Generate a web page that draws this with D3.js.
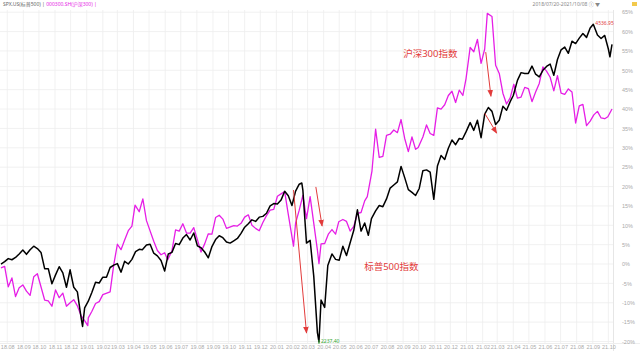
<!DOCTYPE html>
<html><head><meta charset="utf-8">
<script src="https://cdn.jsdelivr.net/npm/d3@7"></script>
<style>body{margin:0;background:#fff;}svg{display:block;font-family:"Noto Sans","Noto Sans CJK SC",sans-serif;}</style>
</head><body>
<svg id="c" width="640" height="351"></svg>
<script>
// S&P 500 (SPX) percent change since start
const spx = [
["2018-07-20",0.0],["2018-07-27",0.6],["2018-08-03",1.4],["2018-08-10",1.1],["2018-08-17",1.7],["2018-08-24",2.6],["2018-08-31",3.6],["2018-09-07",2.5],["2018-09-14",3.7],["2018-09-21",4.6],["2018-09-28",4.0],["2018-10-05",3.0],["2018-10-12",-1.2],["2018-10-19",-1.2],["2018-10-26",-5.1],["2018-11-02",-2.8],["2018-11-09",-0.7],["2018-11-16",-2.3],["2018-11-23",-6.0],["2018-11-30",-1.5],["2018-12-07",-6.0],["2018-12-14",-7.2],["2018-12-21",-13.7],["2018-12-24",-16.1],["2018-12-28",-11.3],
["2019-01-04",-9.6],["2019-01-11",-7.3],["2019-01-18",-4.7],["2019-01-25",-4.9],["2019-02-01",-3.4],["2019-02-08",-3.4],["2019-02-15",-0.9],["2019-02-22",-0.3],["2019-03-01",0.1],["2019-03-08",-2.1],["2019-03-15",0.7],["2019-03-22",0.0],["2019-03-29",1.2],["2019-04-05",3.2],["2019-04-12",3.8],["2019-04-18",3.7],["2019-04-26",4.9],["2019-05-03",5.1],["2019-05-10",2.8],["2019-05-17",2.1],["2019-05-24",0.9],["2019-05-31",-1.8],["2019-06-07",2.6],["2019-06-14",3.0],["2019-06-21",5.3],["2019-06-28",5.0],["2019-07-05",6.7],["2019-07-12",7.6],["2019-07-19",6.2],["2019-07-26",8.0],["2019-08-02",4.7],["2019-08-09",4.2],["2019-08-16",3.1],["2019-08-23",1.6],["2019-08-30",4.5],["2019-09-06",6.3],["2019-09-13",7.3],["2019-09-20",6.8],["2019-09-27",5.7],["2019-10-04",5.4],["2019-10-11",6.0],["2019-10-18",6.6],["2019-10-25",7.9],["2019-11-01",9.5],["2019-11-08",10.4],["2019-11-15",11.4],["2019-11-22",11.0],["2019-11-29",12.1],["2019-12-06",12.3],["2019-12-13",13.1],["2019-12-20",15.0],["2019-12-27",15.6],
["2020-01-03",15.5],["2020-01-10",16.5],["2020-01-17",18.8],["2020-01-24",17.6],["2020-01-31",15.1],["2020-02-07",18.8],["2020-02-14",20.6],["2020-02-19",20.9],["2020-02-21",19.1],["2020-02-28",5.4],["2020-03-06",6.1],["2020-03-13",-3.2],["2020-03-20",-17.7],["2020-03-23",-20.1],["2020-03-27",-9.3],["2020-04-03",-11.2],["2020-04-09",-0.4],["2020-04-17",2.6],["2020-04-24",1.2],["2020-05-01",1.0],["2020-05-08",4.6],["2020-05-15",2.2],["2020-05-22",5.5],["2020-05-29",8.7],["2020-06-05",14.0],["2020-06-12",8.5],["2020-06-19",10.6],["2020-06-26",7.4],["2020-07-02",11.7],["2020-07-10",13.7],["2020-07-17",15.1],["2020-07-24",14.8],["2020-07-31",16.8],["2020-08-07",19.6],["2020-08-14",20.4],["2020-08-21",21.2],["2020-08-28",25.2],["2020-09-04",22.3],["2020-09-11",19.2],["2020-09-18",18.5],["2020-09-25",17.7],["2020-10-02",19.5],["2020-10-09",24.1],["2020-10-16",24.3],["2020-10-23",23.7],["2020-10-30",16.7],["2020-11-06",25.3],["2020-11-13",28.0],["2020-11-20",27.0],["2020-11-27",29.9],["2020-12-04",32.0],["2020-12-11",30.8],["2020-12-18",32.4],["2020-12-24",32.2],["2020-12-31",34.1],
["2021-01-08",36.5],["2021-01-15",34.5],["2021-01-22",37.1],["2021-01-29",32.6],["2021-02-05",38.7],["2021-02-12",40.4],["2021-02-19",39.4],["2021-02-26",36.0],["2021-03-05",37.1],["2021-03-12",40.7],["2021-03-19",39.7],["2021-03-26",41.9],["2021-04-01",43.5],["2021-04-09",47.4],["2021-04-16",49.4],["2021-04-23",49.2],["2021-04-30",49.2],["2021-05-07",51.1],["2021-05-14",49.0],["2021-05-21",48.3],["2021-05-28",50.0],["2021-06-04",51.0],["2021-06-11",51.6],["2021-06-18",48.7],["2021-06-25",52.8],["2021-07-02",55.3],["2021-07-09",56.0],["2021-07-16",54.4],["2021-07-23",57.5],["2021-07-30",56.9],["2021-08-06",58.3],["2021-08-13",59.5],["2021-08-20",58.5],["2021-08-27",60.9],["2021-09-02",61.9],["2021-09-10",59.1],["2021-09-17",58.2],["2021-09-24",59.0],["2021-10-01",55.5],["2021-10-04",53.5],["2021-10-08",56.7]
];
// CSI 300 percent change since start
const csi = [
["2018-07-20",-1.0],["2018-07-27",-0.6],["2018-08-03",-5.9],["2018-08-10",-3.6],["2018-08-17",-8.4],["2018-08-24",-6.1],["2018-08-31",-5.4],["2018-09-07",-7.0],["2018-09-14",-8.1],["2018-09-21",-3.3],["2018-09-28",-2.5],["2018-10-12",-9.3],["2018-10-19",-9.5],["2018-10-26",-10.9],["2018-11-02",-6.7],["2018-11-09",-8.7],["2018-11-16",-7.5],["2018-11-23",-10.9],["2018-11-30",-10.0],["2018-12-07",-9.2],["2018-12-14",-10.8],["2018-12-21",-13.3],["2018-12-28",-14.6],
["2019-01-03",-15.9],["2019-01-04",-13.9],["2019-01-11",-12.2],["2019-01-18",-10.2],["2019-01-25",-9.7],["2019-02-01",-7.9],["2019-02-15",-7.2],["2019-02-22",-0.2],["2019-03-01",5.1],["2019-03-08",3.7],["2019-03-15",6.2],["2019-03-22",8.6],["2019-03-29",9.8],["2019-04-04",15.2],["2019-04-12",13.5],["2019-04-19",16.8],["2019-04-26",11.2],["2019-05-10",5.9],["2019-05-17",3.5],["2019-05-24",2.4],["2019-05-31",2.9],["2019-06-06",1.1],["2019-06-14",3.4],["2019-06-21",8.8],["2019-06-28",8.5],["2019-07-05",10.4],["2019-07-12",8.0],["2019-07-19",8.0],["2019-07-26",9.4],["2019-08-02",6.3],["2019-08-09",3.1],["2019-08-16",5.2],["2019-08-23",7.8],["2019-08-30",7.7],["2019-09-06",12.0],["2019-09-13",12.6],["2019-09-20",11.6],["2019-09-27",9.2],["2019-10-11",9.9],["2019-10-18",9.8],["2019-10-25",10.5],["2019-11-01",12.1],["2019-11-08",12.7],["2019-11-15",10.0],["2019-11-22",9.2],["2019-11-29",8.6],["2019-12-06",10.7],["2019-12-13",12.5],["2019-12-20",13.9],["2019-12-27",14.1],
["2020-01-03",17.5],["2020-01-10",18.1],["2020-01-17",18.7],["2020-01-23",13.6],["2020-02-03",4.6],["2020-02-07",10.6],["2020-02-14",13.9],["2020-02-21",17.7],["2020-02-28",11.7],["2020-03-06",17.4],["2020-03-13",10.5],["2020-03-20",3.6],["2020-03-23",0.1],["2020-03-27",5.2],["2020-04-03",5.3],["2020-04-10",7.7],["2020-04-17",8.9],["2020-04-24",7.7],["2020-04-30",10.9],["2020-05-08",11.5],["2020-05-15",11.0],["2020-05-22",8.5],["2020-05-29",9.7],["2020-06-05",13.1],["2020-06-12",13.3],["2020-06-19",16.3],["2020-06-24",17.4],["2020-07-03",24.0],["2020-07-10",34.8],["2020-07-17",27.5],["2020-07-24",27.8],["2020-07-31",33.2],["2020-08-07",33.5],["2020-08-14",34.6],["2020-08-21",33.9],["2020-08-28",37.3],["2020-09-04",32.4],["2020-09-11",29.0],["2020-09-18",32.8],["2020-09-25",29.6],["2020-09-30",30.1],["2020-10-09",32.8],["2020-10-16",35.9],["2020-10-23",33.7],["2020-10-30",33.2],["2020-11-06",40.3],["2020-11-13",40.0],["2020-11-20",41.1],["2020-11-27",43.5],["2020-12-04",44.6],["2020-12-11",41.7],["2020-12-18",44.9],["2020-12-25",43.5],["2020-12-31",47.8],
["2021-01-08",55.9],["2021-01-15",54.8],["2021-01-22",58.0],["2021-01-29",51.8],["2021-02-05",55.5],["2021-02-10",64.7],["2021-02-19",63.9],["2021-02-26",51.3],["2021-03-05",49.2],["2021-03-12",44.1],["2021-03-19",41.3],["2021-03-26",42.9],["2021-04-02",46.4],["2021-04-09",42.8],["2021-04-16",43.1],["2021-04-23",45.6],["2021-04-30",45.3],["2021-05-07",41.9],["2021-05-14",44.4],["2021-05-21",46.6],["2021-05-28",50.9],["2021-06-04",49.8],["2021-06-11",48.2],["2021-06-18",44.7],["2021-06-25",48.6],["2021-07-02",44.1],["2021-07-09",43.8],["2021-07-16",45.2],["2021-07-23",44.4],["2021-07-30",36.4],["2021-08-06",40.8],["2021-08-13",41.2],["2021-08-20",35.7],["2021-08-27",36.9],["2021-09-03",38.5],["2021-09-10",39.4],["2021-09-17",37.7],["2021-09-24",37.5],["2021-09-30",38.0],["2021-10-08",40.0]
];
const yTicks = [-20,-15,-10,-5,0,5,10,15,20,25,30,35,40,45,50,55,60,65];
const headerLeft = ["SPX.US(标普500) | ", "000300.SH(沪深300) | "];
const headerRight = "2018/07/20-2021/10/08";
const maxLabel = "4536.95", minLabel = "2237.40";
// annotation arrows: [fromDate, fromPct, toDate, toPct]
const arrows = [
 ["2020-02-03",19.1,"2020-02-28",-17.8],
 ["2020-03-17",19.9,"2020-03-29",9.8],
 ["2021-02-07",54.7,"2021-02-17",43.3],
 ["2021-02-05",38.9,"2021-02-28",33.8]
];
const notes = [["2020-09-01",53.4,"沪深300指数"],["2020-06-18",-1.5,"标普500指数"]];

const parse = d3.timeParse("%Y-%m-%d");
const svg = d3.select("#c");
const x = d3.scaleTime().domain([parse("2018-07-20"), parse("2021-10-08")]).range([1, 612]);
const y = d3.scaleLinear().domain([-20, 65]).range([341.5, 12.2]);
const red = "#e23b3b";

// grid
const months = d3.timeMonth.range(parse("2018-08-01"), parse("2021-10-02"));
svg.append("g").selectAll("line").data(months).join("line")
  .attr("x1", d => x(d)).attr("x2", d => x(d)).attr("y1", 10).attr("y2", 343)
  .attr("stroke", "#eeeeee").attr("stroke-width", 0.8);
svg.append("g").selectAll("line").data(yTicks).join("line")
  .attr("x1", 0).attr("x2", 613).attr("y1", d => y(d)).attr("y2", d => y(d))
  .attr("stroke", "#eeeeee").attr("stroke-width", 0.8);
svg.append("line").attr("x1", 613.5).attr("x2", 613.5).attr("y1", 10).attr("y2", 351).attr("stroke", "#e6e6e6");
svg.append("line").attr("x1", 0).attr("x2", 640).attr("y1", 343.5).attr("y2", 343.5).attr("stroke", "#eeeeee");

// axis labels
const yAxis = d3.axisRight(y).tickValues(yTicks).tickSize(0).tickFormat(d => d + "%");
const ga = svg.append("g").attr("transform", "translate(620,0)").call(yAxis);
ga.select(".domain").remove();
ga.selectAll("text").attr("fill", "#aaa").attr("font-size", 5.5).attr("x", 2);
const xAxis = d3.axisBottom(x).tickValues(months).tickSize(0).tickFormat(d3.timeFormat("%y.%m"));
const gx = svg.append("g").attr("transform", "translate(0,344)").call(xAxis);
gx.select(".domain").remove();
gx.selectAll("text").attr("fill", "#aaa").attr("font-size", 5.5).attr("dy", "0.4em");

// lines
const line = d3.line().x(d => x(parse(d[0]))).y(d => y(d[1]));
svg.append("path").datum(csi).attr("d", line).attr("fill", "none").attr("stroke", "#e61ee6").attr("stroke-width", 1.3).attr("stroke-linejoin", "round");
svg.append("path").datum(spx).attr("d", line).attr("fill", "none").attr("stroke", "#000").attr("stroke-width", 1.5).attr("stroke-linejoin", "round");

// max / min labels
const mx = spx.reduce((a, b) => b[1] > a[1] ? b : a);
const mn = spx.reduce((a, b) => b[1] < a[1] ? b : a);
svg.append("text").attr("x", x(parse(mx[0])) + 2).attr("y", y(mx[1]) + 1).attr("fill", red).attr("font-size", 5).text(maxLabel);
svg.append("line").attr("x1", x(parse(mn[0]))).attr("x2", x(parse(mn[0]))).attr("y1", y(mn[1])-2).attr("y2", y(mn[1])+2).attr("stroke", "#3a3").attr("stroke-width", 1);
svg.append("text").attr("x", x(parse(mn[0])) + 2).attr("y", y(mn[1]) + 1.5).attr("fill", "#3a3").attr("font-size", 5).text(minLabel);

// arrows
const defs = svg.append("defs");
defs.append("marker").attr("id", "ah").attr("viewBox", "0 0 10 10").attr("refX", 9).attr("refY", 5)
  .attr("markerWidth", 7).attr("markerHeight", 7).attr("orient", "auto")
  .append("path").attr("d", "M0,1 L10,5 L0,9 Z").attr("fill", red);
svg.append("g").selectAll("line").data(arrows).join("line")
  .attr("x1", d => x(parse(d[0]))).attr("y1", d => y(d[1]))
  .attr("x2", d => x(parse(d[2]))).attr("y2", d => y(d[3]))
  .attr("stroke", red).attr("stroke-width", 1).attr("marker-end", "url(#ah)");
svg.append("g").selectAll("text").data(notes).join("text")
  .attr("x", d => x(parse(d[0]))).attr("y", d => y(d[1]))
  .attr("fill", red).attr("font-size", 9.5).text(d => d[2]);

// header
const ht = svg.append("text").attr("x", 3).attr("y", 6).attr("font-size", 5);
ht.append("tspan").attr("fill", "#666").text(headerLeft[0]);
ht.append("tspan").attr("fill", "#e61ee6").text(headerLeft[1]);
svg.append("text").attr("x", 600).attr("y", 6).attr("text-anchor", "end").attr("font-size", 5).attr("fill", "#888").text(headerRight + " ⓘ ▼");
svg.append("rect").attr("x", 632).attr("y", 2).attr("width", 5).attr("height", 4).attr("fill", "#f2c94c");
</script>
</body></html>
